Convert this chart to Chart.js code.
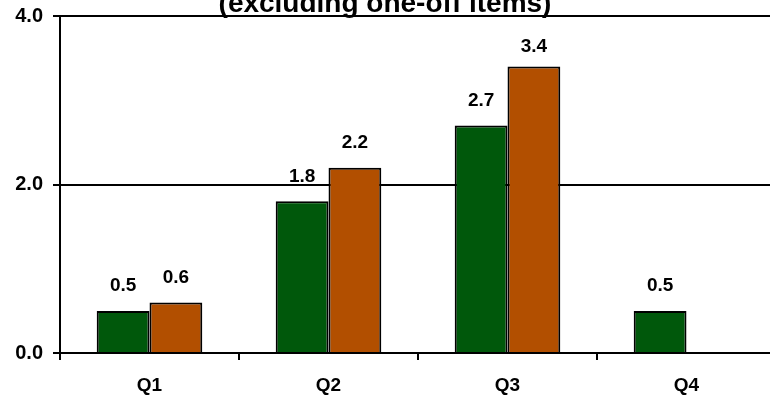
<!DOCTYPE html>
<html>
<head>
<meta charset="utf-8">
<script src="https://cdn.jsdelivr.net/npm/chart.js@4/dist/chart.umd.min.js"></script>
<style>
  html, body { margin: 0; padding: 0; background: #ffffff; }
  #wrap { width: 770px; height: 396px; overflow: hidden; position: relative; }
  #chart { position: absolute; left: 0; top: 0; }
</style>
</head>
<body>
<div id="wrap"><canvas id="chart" width="780" height="396"></canvas></div>
<script>
// Quarterly figures, excluding one-off items
const quarters = ['Q1', 'Q2', 'Q3', 'Q4'];
const seriesGreen = [0.5, 1.8, 2.7, 0.5];
const seriesOrange = [0.6, 2.2, 3.4, null];
const yTicks = [0, 2, 4];
const subtitle = '(excluding one-off items)';

const FONT = '"Liberation Sans", Arial, Helvetica, sans-serif';

// Value labels above each bar, kept clear of the top edge
const valueLabels = {
  id: 'valueLabels',
  afterDatasetsDraw(chart) {
    const ctx = chart.ctx;
    const minY = chart.chartArea.top + 31;
    ctx.save();
    ctx.font = 'bold 19px ' + FONT;
    ctx.fillStyle = '#000000';
    ctx.textAlign = 'center';
    ctx.textBaseline = 'middle';
    chart.data.datasets.forEach((ds, di) => {
      const meta = chart.getDatasetMeta(di);
      meta.data.forEach((bar, i) => {
        const v = ds.data[i];
        if (v === null || v === undefined) return;
        ctx.fillText(v.toFixed(1), bar.x, Math.max(bar.y - 25, minY));
      });
    });
    ctx.restore();
  }
};

// Heading line at the top edge
const headingText = {
  id: 'headingText',
  afterDraw(chart) {
    const ctx = chart.ctx;
    ctx.save();
    ctx.font = 'bold 28px ' + FONT;
    ctx.fillStyle = '#000000';
    ctx.textAlign = 'center';
    ctx.textBaseline = 'alphabetic';
    ctx.fillText(subtitle, 385, 12);
    ctx.restore();
  }
};

new Chart(document.getElementById('chart'), {
  type: 'bar',
  data: {
    labels: quarters,
    datasets: [
      {
        data: seriesGreen,
        backgroundColor: '#00580B',
        borderColor: '#000000',
        borderWidth: 2,
        categoryPercentage: 0.59,
        barPercentage: 1.0
      },
      {
        data: seriesOrange,
        backgroundColor: '#B24F00',
        borderColor: '#000000',
        borderWidth: 2,
        categoryPercentage: 0.59,
        barPercentage: 1.0
      }
    ]
  },
  options: {
    responsive: false,
    animation: false,
    devicePixelRatio: 1,
    layout: { padding: { top: 16, right: 4, left: 0, bottom: 0 } },
    plugins: {
      legend: { display: false },
      title: { display: false },
      tooltip: { enabled: false }
    },
    scales: {
      x: {
        grid: {
          display: true,
          drawOnChartArea: false,
          drawTicks: true,
          tickLength: 7,
          color: '#000000',
          lineWidth: 2
        },
        border: { display: true, color: '#000000', width: 2 },
        ticks: {
          color: '#000000',
          font: { family: FONT, size: 19, weight: 'bold' },
          padding: 14
        },
        afterFit(scale) {
          scale.height = 43;
          scale.paddingLeft = 0;
          scale.paddingRight = 0;
        }
      },
      y: {
        min: 0,
        max: 4,
        afterBuildTicks(scale) {
          scale.ticks = yTicks.map(v => ({ value: v }));
        },
        grid: {
          display: true,
          drawOnChartArea: true,
          drawTicks: true,
          tickLength: 7,
          color: '#000000',
          lineWidth: 2
        },
        border: { display: true, color: '#000000', width: 2 },
        ticks: {
          color: '#000000',
          font: { family: FONT, size: 20, weight: 'bold' },
          padding: 10,
          callback: (v) => Number(v).toFixed(1)
        },
        afterFit(scale) {
          scale.width = 60;
          scale.paddingTop = 0;
          scale.paddingBottom = 0;
        }
      }
    }
  },
  plugins: [valueLabels, headingText]
});
</script>
</body>
</html>
